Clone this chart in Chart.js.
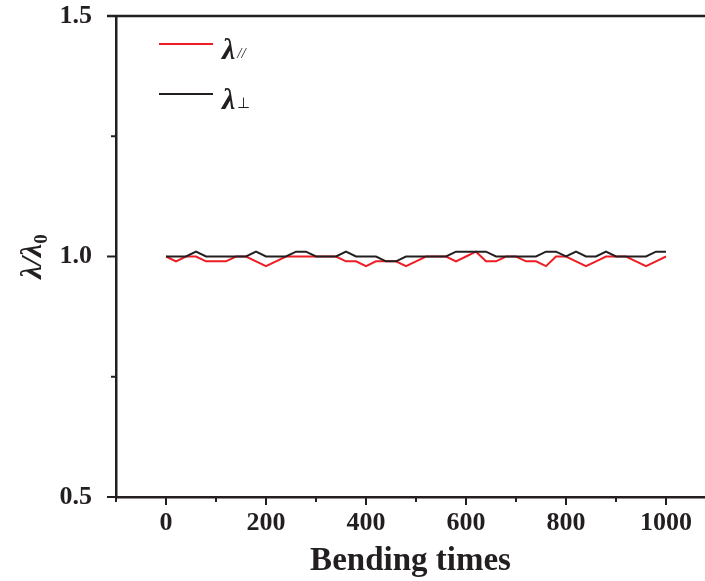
<!DOCTYPE html>
<html>
<head>
<meta charset="utf-8">
<script src="https://cdn.jsdelivr.net/npm/chart.js@4"></script>
<style>
  html, body { margin: 0; padding: 0; background: #fff; }
  #wrap { width: 705px; height: 581px; position: relative; }
</style>
</head>
<body>
<div id="wrap"><canvas id="lambdaChart"></canvas></div>
<script>
// bending times, every 20 cycles
const bendingTimes = [];
for (let b = 0; b <= 1000; b += 20) bendingTimes.push(b);

const lambdaParallel = [
    1.00, 0.99, 1.00, 1.00, 0.99, 0.99, 0.99, 1.00, 1.00, 0.99,
    0.98, 0.99, 1.00, 1.00, 1.00, 1.00, 1.00, 1.00, 0.99, 0.99,
    0.98, 0.99, 0.99, 0.99, 0.98, 0.99, 1.00, 1.00, 1.00, 0.99,
    1.00, 1.01, 0.99, 0.99, 1.00, 1.00, 0.99, 0.99, 0.98, 1.00,
    1.00, 0.99, 0.98, 0.99, 1.00, 1.00, 1.00, 0.99, 0.98, 0.99,
    1.00
];
const lambdaPerp = [
    1.00, 1.00, 1.00, 1.01, 1.00, 1.00, 1.00, 1.00, 1.00, 1.01,
    1.00, 1.00, 1.00, 1.01, 1.01, 1.00, 1.00, 1.00, 1.01, 1.00,
    1.00, 1.00, 0.99, 0.99, 1.00, 1.00, 1.00, 1.00, 1.00, 1.01,
    1.01, 1.01, 1.01, 1.00, 1.00, 1.00, 1.00, 1.00, 1.01, 1.01,
    1.00, 1.01, 1.00, 1.00, 1.01, 1.00, 1.00, 1.00, 1.00, 1.01,
    1.01
];

const xMajorTicks = [0, 200, 400, 600, 800, 1000];
const xMinorTicks = [-100, 100, 300, 500, 700, 900];
const yMajorTicks = [0.5, 1.0, 1.5];
const yMinorTicks = [0.75, 1.25];

const legendMain = ["λ", "λ"];
const legendSub = ["//", "⊥"];

const ink = "#231f20";
const serif = "'Liberation Serif', 'Times New Roman', serif";

function toPoints(values) {
    return values.map((v, i) => ({ x: bendingTimes[i], y: v }));
}

// frame top line, tick marks, y title and legend
const decorations = {
    id: "decorations",
    afterDraw(chart) {
        const { ctx, chartArea, scales } = chart;
        const xs = scales.x, ys = scales.y;
        ctx.save();
        ctx.strokeStyle = ink;
        ctx.lineWidth = 2.5;
        ctx.beginPath();
        ctx.moveTo(chartArea.left - 9, chartArea.top);
        ctx.lineTo(chartArea.right, chartArea.top);
        ctx.stroke();

        ctx.lineWidth = 2;
        const xTick = (v, len) => {
            const px = xs.getPixelForValue(v);
            ctx.beginPath();
            ctx.moveTo(px, chartArea.bottom);
            ctx.lineTo(px, chartArea.bottom + len);
            ctx.stroke();
        };
        xMajorTicks.forEach(v => xTick(v, 8));
        xMinorTicks.forEach(v => xTick(v, 5));
        const yTick = (v, len) => {
            const py = ys.getPixelForValue(v);
            ctx.beginPath();
            ctx.moveTo(chartArea.left, py);
            ctx.lineTo(chartArea.left - len, py);
            ctx.stroke();
        };
        yMajorTicks.forEach(v => yTick(v, 9));
        yMinorTicks.forEach(v => yTick(v, 5));

        // y title  λ/λ0
        ctx.translate(33, (chartArea.top + chartArea.bottom) / 2);
        ctx.rotate(-Math.PI / 2);
        ctx.fillStyle = ink;
        ctx.textBaseline = "middle";
        ctx.font = "bold italic 30px " + serif;
        const mainTxt = "λ/λ";
        const subTxt = "0";
        const wMain = ctx.measureText(mainTxt).width;
        ctx.font = "bold 19px " + serif;
        const wSub = ctx.measureText(subTxt).width;
        const x0 = -(wMain + wSub) / 2;
        ctx.font = "bold italic 30px " + serif;
        ctx.textAlign = "left";
        ctx.fillText(mainTxt, x0, 0);
        ctx.font = "bold 19px " + serif;
        ctx.fillText(subTxt, x0 + wMain, 9);
        ctx.restore();

        // legend
        ctx.save();
        chart.data.datasets.forEach((ds, i) => {
            const ly = 44 + i * 50;
            ctx.strokeStyle = ds.borderColor;
            ctx.lineWidth = 2;
            ctx.beginPath();
            ctx.moveTo(159, ly);
            ctx.lineTo(213, ly);
            ctx.stroke();
            ctx.fillStyle = ink;
            ctx.textBaseline = "middle";
            ctx.textAlign = "left";
            ctx.font = "bold italic 30px " + serif;
            ctx.fillText(legendMain[i], 222, ly + 7);
            const w = ctx.measureText(legendMain[i]).width;
            ctx.font = (i === 0 ? "italic " : "") + "15px " + serif;
            ctx.fillText(legendSub[i], 222 + w + 2, ly + 10);
        });
        ctx.restore();
    }
};

new Chart(document.getElementById("lambdaChart").getContext("2d"), {
    type: "line",
    data: {
        datasets: [
            {
                label: "λ//",
                data: toPoints(lambdaParallel),
                borderColor: "#ee1c24",
                borderWidth: 2,
                pointRadius: 0,
                tension: 0,
                order: 2
            },
            {
                label: "λ⊥",
                data: toPoints(lambdaPerp),
                borderColor: "#231f20",
                borderWidth: 2,
                pointRadius: 0,
                tension: 0,
                order: 1
            }
        ]
    },
    options: {
        responsive: true,
        maintainAspectRatio: false,
        animation: false,
        layout: { padding: { top: 16, right: 0, left: 0, bottom: 0 } },
        plugins: {
            legend: { display: false },
            tooltip: { enabled: false }
        },
        scales: {
            x: {
                type: "linear",
                min: -100,
                max: 1078,
                afterBuildTicks: (scale) => {
                    scale.ticks = xMajorTicks.map(v => ({ value: v }));
                },
                afterFit: (scale) => {
                    scale.height = 84;
                    scale.paddingLeft = 0;
                    scale.paddingRight = 0;
                },
                ticks: {
                    color: ink,
                    padding: 11,
                    maxRotation: 0,
                    autoSkip: false,
                    font: { family: serif, size: 26, weight: "bold" },
                    callback: (v) => String(v)
                },
                grid: { display: false, drawTicks: false },
                border: { display: true, color: ink, width: 2.5 },
                title: {
                    display: true,
                    text: "Bending times",
                    color: ink,
                    padding: { top: 0, bottom: 0 },
                    font: { family: serif, size: 33, weight: "bold" }
                }
            },
            y: {
                min: 0.5,
                max: 1.5,
                afterBuildTicks: (scale) => {
                    scale.ticks = yMajorTicks.map(v => ({ value: v }));
                },
                afterFit: (scale) => {
                    scale.width = 116;
                    scale.paddingTop = 0;
                    scale.paddingBottom = 0;
                },
                ticks: {
                    color: ink,
                    padding: 24,
                    font: { family: serif, size: 26, weight: "bold" },
                    callback: (v) => Number(v).toFixed(1)
                },
                grid: { display: false, drawTicks: false },
                border: { display: true, color: ink, width: 2.5 }
            }
        }
    },
    plugins: [decorations]
});
</script>
</body>
</html>
